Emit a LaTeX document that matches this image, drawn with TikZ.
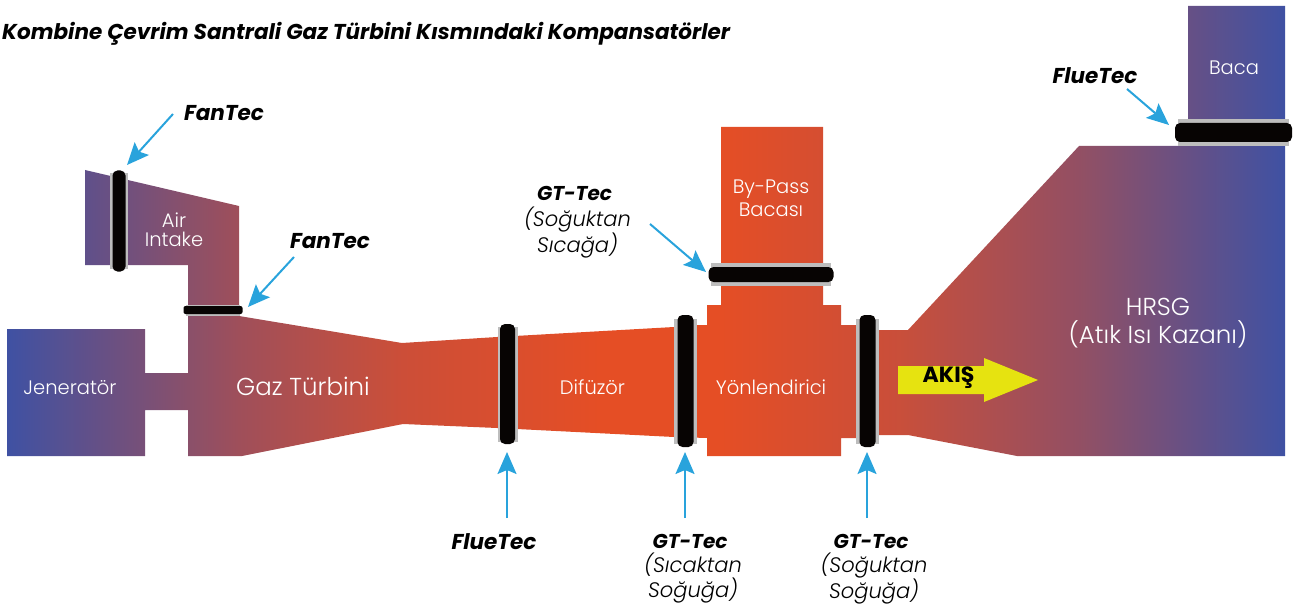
\documentclass[tikz,border=0pt]{standalone}
\usepackage{fontspec}
\setmainfont{Poppins}
\newfontfamily\ince{Poppins Light}
\usetikzlibrary{arrows.meta}
\definecolor{mavi}{HTML}{3F51A3}
\definecolor{turuncu}{HTML}{E54E25}
\definecolor{okmavi}{HTML}{29A3DC}
\definecolor{gri}{HTML}{BDBDBD}
\definecolor{sari}{HTML}{E6E310}
\definecolor{siyah}{HTML}{070403}
\pgfdeclarehorizontalshading{akis}{100bp}{color(0bp)=(mavi); color(25bp)=(mavi);
  color(34.1bp)=(mavi!42!turuncu); color(40.5bp)=(mavi!15!turuncu); color(48.2bp)=(turuncu);
  color(52.9bp)=(turuncu); color(59.9bp)=(mavi!17!turuncu); color(67bp)=(mavi!50!turuncu);
  color(75bp)=(mavi); color(100bp)=(mavi)}
\tikzset{
  flans/.style={fill=gri, inner sep=0pt},
  koruk/.style={fill=siyah, inner sep=0pt, rounded corners=5pt},
  ok/.style={draw=okmavi, line width=2pt, -{Stealth[length=22pt,width=19pt,inset=4pt]}},
  ic/.style={text=white, font=\ince\fontsize{19.5}{23}\selectfont, align=center, inner sep=0pt},
  etiket/.style={font=\bfseries\itshape\fontsize{21.5}{25}\selectfont, inner sep=0pt},
  gtetiket/.style={font=\bfseries\itshape\fontsize{20}{25}\selectfont, inner sep=0pt},
  alt/.style={font=\ince\itshape\fontsize{21}{25}\selectfont, align=center, inner sep=0pt}
}
\begin{document}
\begin{tikzpicture}[x=1pt, y=-1pt]
  \useasboundingbox (0,0) rectangle (1306,604);

  % Govde
  \shade[shading=akis] (7,329) -- (145,329) -- (145,373) -- (188,373) -- (188,265) -- (85,265) -- (85,170)
    -- (239,206) -- (239,316) -- (402,343) -- (497,337) -- (674,327) -- (697,325) -- (707,325) -- (707,305)
    -- (721,305) -- (721,127) -- (823,127) -- (823,305) -- (841,305) -- (841,325) -- (868,325) -- (868,330)
    -- (908,330) -- (1079,146) -- (1188,146) -- (1188,6) -- (1285,6) -- (1285,456) -- (1017,456) -- (908,435)
    -- (868,435) -- (868,438) -- (841,438) -- (841,456) -- (707,456) -- (707,438) -- (674,437) -- (497,428)
    -- (403,424) -- (242,456) -- (188,456) -- (188,410) -- (145,410) -- (145,456) -- (7,456) -- cycle;

  % Kompansatorler
  \node[flans, minimum width=18pt, minimum height=96pt] (gri1) at (119,221) {};
  \node[koruk, minimum width=13pt, minimum height=101pt] (komp1) at (119,221) {};
  \node[flans, minimum width=54pt, minimum height=11pt] (gri2) at (213,310) {};
  \node[koruk, minimum width=59pt, minimum height=8pt, rounded corners=2pt] (komp2) at (213,310) {};
  \node[flans, minimum width=20pt, minimum height=115pt] (gri3) at (507.5,384) {};
  \node[koruk, minimum width=15pt, minimum height=120pt] (komp3) at (507.5,384) {};
  \node[flans, minimum width=23pt, minimum height=125pt] (gri4) at (685.5,381) {};
  \node[koruk, minimum width=16pt, minimum height=132pt] (komp4) at (685.5,381) {};
  \node[flans, minimum width=23pt, minimum height=125pt] (gri5) at (867.5,381) {};
  \node[koruk, minimum width=16pt, minimum height=132pt] (komp5) at (867.5,381) {};
  \node[flans, minimum width=120pt, minimum height=23pt] (gri6) at (771,274.5) {};
  \node[koruk, minimum width=125pt, minimum height=15pt] (komp6) at (771,274.5) {};
  \node[flans, minimum width=111pt, minimum height=27pt] (gri7) at (1233.5,132.5) {};
  \node[koruk, minimum width=117pt, minimum height=19pt] (komp7) at (1233.5,132.5) {};

  % Akis oku
  \fill[sari] (898,366) -- (984,366) -- (984,358) -- (1038,380) -- (984,402) -- (984,394) -- (898,394) -- cycle;
  \node[font=\bfseries\fontsize{22}{26}\selectfont, inner sep=0pt] (akis) at (948.5,378) {AKIŞ};

  % Ic yazilar
  \node[ic] (jen) at (70,388) {Jeneratör};
  \node[ic, font=\ince\fontsize{24.5}{28}\selectfont] (gaz) at (303,386) {Gaz Türbini};
  \node[ic] (air) at (174,229.5) {Air\\[-4.5pt]Intake};
  \node[ic] (dif) at (592.5,387) {Difüzör};
  \node[ic] (yon) at (771,387) {Yönlendirici};
  \node[ic] (byp) at (771,198.5) {By-Pass\\Bacası};
  \node[ic] (bac) at (1234,67.5) {Baca};
  \node[ic, font=\ince\fontsize{24.5}{28}\selectfont] (hrsg) at (1158,323.5) {HRSG\\(Atık Isı Kazanı)};

  % Baslik
  \node[etiket, anchor=west] (baslik) at (2,34) {Kombine Çevrim Santrali Gaz Türbini Kısmındaki Kompansatörler};

  % Etiketler
  \node[etiket] (fan1) at (224,113) {FanTec};
  \node[etiket] (fan2) at (330,241) {FanTec};
  \node[etiket] (flu1) at (1095,75.5) {FlueTec};
  \node[etiket] (flu2) at (494,541.5) {FlueTec};
  \node[gtetiket] (gt1) at (574.5,193.5) {GT-Tec};
  \node[alt] (gt1a) at (577.5,232.5) {(Soğuktan\\Sıcağa)};
  \node[gtetiket] (gt2) at (690,541.5) {GT-Tec};
  \node[alt] (gt2a) at (693,578.5) {(Sıcaktan\\Soğuğa)};
  \node[gtetiket] (gt3) at (871,541.5) {GT-Tec};
  \node[alt] (gt3a) at (874,578.5) {(Soğuktan\\Soğuğa)};

  % Oklar
  \coordinate (o1a) at (173,114); \coordinate (o1b) at (127,165);
  \coordinate (o2a) at (294,257); \coordinate (o2b) at (248,307);
  \coordinate (o3a) at (650,224); \coordinate (o3b) at (706,272);
  \coordinate (o4a) at (1127,89); \coordinate (o4b) at (1169,125);
  \coordinate (o5a) at (507,518); \coordinate (o5b) at (507,452);
  \coordinate (o6a) at (685,518); \coordinate (o6b) at (685,452);
  \coordinate (o7a) at (867,518); \coordinate (o7b) at (867,452);
  \foreach \n in {1,...,7}
    \draw[ok] (o\n a) -- (o\n b);
\end{tikzpicture}
\end{document}
